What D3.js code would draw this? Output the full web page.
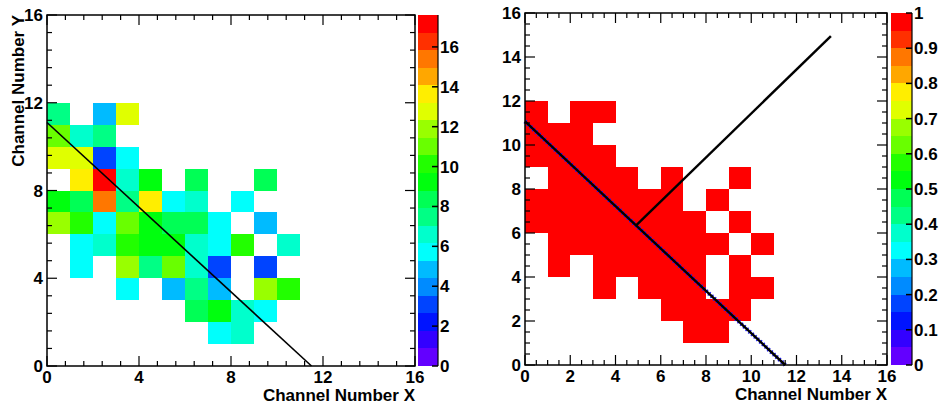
<!DOCTYPE html>
<meta charset="utf-8">
<title>Channel maps</title>
<style>
  body { margin: 0; background: #fff; }
  svg text { font-family: "Liberation Sans", Arial, sans-serif; font-weight: bold; fill: #000; }
</style>
<div id="viz"></div>
<script src="https://cdnjs.cloudflare.com/ajax/libs/d3/7.8.5/d3.min.js"></script>
<script>

// left: charge per channel [x, y, value]
var chargeCells = [
  [0, 11, 7.5], [2, 11, 4.8], [3, 11, 12.8],
  [0, 10, 11.0], [1, 10, 6.6], [2, 10, 7.5],
  [0, 9, 12.8], [1, 9, 12.8], [2, 9, 3.1], [3, 9, 5.7],
  [1, 8, 13.6], [2, 8, 17.6], [3, 8, 6.6], [4, 8, 9.2], [6, 8, 8.4], [9, 8, 8.4],
  [0, 7, 9.4], [1, 7, 8.4], [2, 7, 15.4], [3, 7, 7.5], [4, 7, 13.6], [5, 7, 5.7], [6, 7, 6.6], [8, 7, 5.7],
  [0, 6, 11.9], [1, 6, 10.1], [2, 6, 5.7], [3, 6, 11.0], [4, 6, 9.2], [5, 6, 8.4], [6, 6, 8.4], [7, 6, 5.7], [9, 6, 4.8],
  [1, 5, 5.7], [2, 5, 6.6], [3, 5, 10.1], [4, 5, 9.6], [5, 5, 9.6], [6, 5, 6.6], [7, 5, 5.7], [8, 5, 10.1], [10, 5, 6.6],
  [1, 4, 5.7], [3, 4, 11.9], [4, 4, 7.5], [5, 4, 11.0], [6, 4, 6.6], [7, 4, 3.1], [9, 4, 3.1],
  [3, 3, 5.7], [5, 3, 4.8], [6, 3, 7.5], [7, 3, 4.8], [9, 3, 11.9], [10, 3, 10.1],
  [6, 2, 8.4], [7, 2, 9.2], [8, 2, 6.6], [9, 2, 5.7],
  [7, 1, 5.7], [8, 1, 6.6]
];
var chargeMax = 17.6;

// right: channels with a hit [x, y, value]
var hitCells = [
  [0, 11, 1], [2, 11, 1], [3, 11, 1],
  [0, 10, 1], [1, 10, 1], [2, 10, 1],
  [0, 9, 1], [1, 9, 1], [2, 9, 1], [3, 9, 1],
  [1, 8, 1], [2, 8, 1], [3, 8, 1], [4, 8, 1], [6, 8, 1], [9, 8, 1],
  [0, 7, 1], [1, 7, 1], [2, 7, 1], [3, 7, 1], [4, 7, 1], [5, 7, 1], [6, 7, 1], [8, 7, 1],
  [0, 6, 1], [1, 6, 1], [2, 6, 1], [3, 6, 1], [4, 6, 1], [5, 6, 1], [6, 6, 1], [7, 6, 1], [9, 6, 1],
  [1, 5, 1], [2, 5, 1], [3, 5, 1], [4, 5, 1], [5, 5, 1], [6, 5, 1], [7, 5, 1], [8, 5, 1], [10, 5, 1],
  [1, 4, 1], [3, 4, 1], [4, 4, 1], [5, 4, 1], [6, 4, 1], [7, 4, 1], [9, 4, 1],
  [3, 3, 1], [5, 3, 1], [6, 3, 1], [7, 3, 1], [9, 3, 1], [10, 3, 1],
  [6, 2, 1], [7, 2, 1], [8, 2, 1], [9, 2, 1],
  [7, 1, 1], [8, 1, 1]
];
var hitMax = 1;

var trackL = [[0, 11.1], [11.5, 0]];
var trackR = [[0, 11.07], [11.5, 0]];
var normalR = [[4.9, 6.34], [13.52, 14.95]];

var axisTicksL = [0, 4, 8, 12, 16];
var axisTicksR = [0, 2, 4, 6, 8, 10, 12, 14, 16];
var zTicksL = [0, 2, 4, 6, 8, 10, 12, 14, 16];
var zTicksR = [0, 0.1, 0.2, 0.3, 0.4, 0.5, 0.6, 0.7, 0.8, 0.9, 1];

// ROOT rainbow palette, 20 contour bands
var nBands = 20;
var palette = d3.range(nBands).map(function(k) {
  var idx = Math.floor((k + 0.99) * 50 / nBands);
  var hue = 280 - (idx + 1) * 280 / 50;
  return d3.hsl(hue, 1, 0.5).formatHex();
});

var svg = d3.select("#viz").append("svg")
  .attr("width", 939)
  .attr("height", 412);

function panel(p) {
  var g = svg.append("g");
  var x = d3.scaleLinear().domain([0, 16]).range([p.left, p.right]);
  var y = d3.scaleLinear().domain([0, 16]).range([p.bottom, p.top]);
  var z = d3.scaleLinear().domain([0, p.zmax]).range([p.bottom, p.top]);
  var band = function(v) {
    return palette[Math.min(nBands - 1, Math.floor(v / p.zmax * nBands))];
  };

  // cells
  g.selectAll("rect.cell").data(p.cells).enter().append("rect")
    .attr("class", "cell")
    .attr("x", function(d) { return x(d[0]); })
    .attr("y", function(d) { return y(d[1] + 1); })
    .attr("width", function(d) { return x(d[0] + 1) - x(d[0]); })
    .attr("height", function(d) { return y(d[1]) - y(d[1] + 1); })
    .attr("fill", function(d) { return band(d[2]); })
    .attr("shape-rendering", "crispEdges");

  // lines
  var line = d3.line().x(function(d) { return x(d[0]); }).y(function(d) { return y(d[1]); });
  p.lines.forEach(function(l) {
    if (l.dots) {
      g.append("path").attr("d", line(l.pts)).attr("fill", "none")
        .attr("stroke", "#1a1aff").attr("stroke-width", l.w + 2)
        .attr("stroke-dasharray", "1.5,2.2");
    }
    g.append("path").attr("d", line(l.pts)).attr("fill", "none")
      .attr("stroke", "#000").attr("stroke-width", l.w);
  });

  // frame
  g.append("rect")
    .attr("x", p.left).attr("y", p.top)
    .attr("width", p.right - p.left).attr("height", p.bottom - p.top)
    .attr("fill", "none").attr("stroke", "#000").attr("stroke-width", 1.5);

  // ticks on all four sides
  var ticks = [];
  for (var i = 0; i < p.majors.length - 1; i++) {
    var a = p.majors[i], b = p.majors[i + 1];
    for (var j = 0; j < p.sub; j++) ticks.push({ v: a + (b - a) * j / p.sub, major: j === 0 });
  }
  ticks.push({ v: p.majors[p.majors.length - 1], major: true });
  var tg = g.append("g").attr("stroke", "#000").attr("stroke-width", 1.2);
  ticks.forEach(function(t) {
    var len = t.major ? 10 : 5;
    tg.append("line").attr("x1", x(t.v)).attr("x2", x(t.v)).attr("y1", p.bottom).attr("y2", p.bottom - len);
    tg.append("line").attr("x1", x(t.v)).attr("x2", x(t.v)).attr("y1", p.top).attr("y2", p.top + len);
    tg.append("line").attr("y1", y(t.v)).attr("y2", y(t.v)).attr("x1", p.left).attr("x2", p.left + len);
    tg.append("line").attr("y1", y(t.v)).attr("y2", y(t.v)).attr("x1", p.right).attr("x2", p.right - len);
  });

  // tick labels
  g.selectAll("text.xl").data(p.majors).enter().append("text")
    .attr("x", function(d) { return x(d); })
    .attr("y", p.bottom + 17)
    .attr("text-anchor", "middle")
    .style("font-size", "17px")
    .text(function(d) { return d; });
  g.selectAll("text.yl").data(p.majors).enter().append("text")
    .attr("x", p.left - 4)
    .attr("y", function(d) { return y(d) + 6; })
    .attr("text-anchor", "end")
    .style("font-size", "17px")
    .text(function(d) { return d; });

  // axis titles
  g.append("text")
    .attr("x", p.right)
    .attr("y", p.bottom + 35)
    .attr("text-anchor", "end")
    .style("font-size", "17px")
    .text("Channel Number X");
  if (p.yTitle) {
    g.append("text")
      .attr("transform", "translate(" + (p.left - 23) + "," + p.top + ") rotate(-90)")
      .attr("text-anchor", "end")
      .style("font-size", "17px")
      .text(p.yTitle);
  }

  // colour bar
  var cb = g.append("g");
  cb.selectAll("rect").data(d3.range(nBands)).enter().append("rect")
    .attr("x", p.cbLeft)
    .attr("y", function(k) { return z((k + 1) * p.zmax / nBands); })
    .attr("width", p.cbRight - p.cbLeft)
    .attr("height", function(k) { return z(k * p.zmax / nBands) - z((k + 1) * p.zmax / nBands); })
    .attr("fill", function(k) { return palette[k]; })
    .attr("shape-rendering", "crispEdges");
  cb.append("line").attr("x1", p.cbRight).attr("x2", p.cbRight)
    .attr("y1", p.top).attr("y2", p.bottom).attr("stroke", "#000").attr("stroke-width", 1.2);
  cb.selectAll("line.zt").data(p.zTicks).enter().append("line")
    .attr("x1", p.cbRight).attr("x2", p.cbRight - 6)
    .attr("y1", function(d) { return z(d); }).attr("y2", function(d) { return z(d); })
    .attr("stroke", "#000").attr("stroke-width", 1.5);
  cb.selectAll("text").data(p.zTicks).enter().append("text")
    .attr("x", p.cbRight + 2)
    .attr("y", function(d) { return z(d) + 6; })
    .style("font-size", "17px")
    .text(function(d) { return d; });
}

panel({
  left: 47, right: 415, top: 15, bottom: 366,
  cbLeft: 418, cbRight: 438,
  cells: chargeCells, zmax: chargeMax,
  majors: axisTicksL, sub: 5, zTicks: zTicksL,
  lines: [{ pts: trackL, w: 1.6 }],
  yTitle: "Channel Number Y"
});

panel({
  left: 525, right: 887, top: 13, bottom: 365,
  cbLeft: 891, cbRight: 912,
  cells: hitCells, zmax: hitMax,
  majors: axisTicksR, sub: 4, zTicks: zTicksR,
  lines: [{ pts: trackR, w: 2.4, dots: true }, { pts: normalR, w: 2.4 }]
});

</script>
